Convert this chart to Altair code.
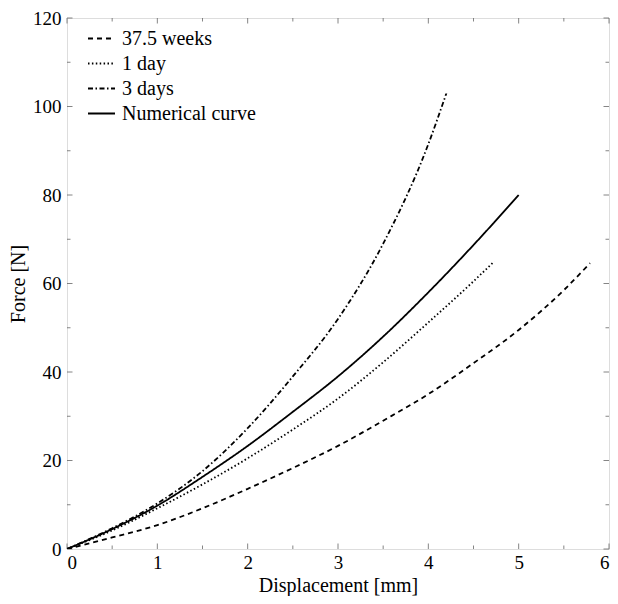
import altair as alt
import pandas as pd

# ---- data ----
series_names = ["37.5 weeks", "1 day", "3 days", "Numerical curve"]

weeks_x = [0, 0.5, 1, 1.5, 2, 2.5, 3, 3.5, 4, 4.5, 5, 5.5, 5.79]
weeks_y = [0, 2.6, 5.4, 9.2, 13.6, 18.3, 23.3, 29, 35, 42, 49.5, 58.5, 64.6]

day1_x = [0, 0.5, 1, 1.5, 2, 2.5, 3, 3.5, 4, 4.5, 4.73]
day1_y = [0, 4.2, 9.2, 14.6, 20.5, 27, 34, 42.2, 51.2, 60.5, 65]

day3_x = [0, 0.5, 1, 1.5, 2, 2.5, 3, 3.5, 4, 4.2]
day3_y = [0, 4.7, 10.3, 17.6, 27.3, 39, 52, 69, 91.5, 103]

num_x = [0, 0.5, 1, 1.5, 2, 2.5, 3, 3.5, 4, 4.5, 5]
num_y = [0, 4.5, 9.8, 16.3, 23.3, 31, 39, 48, 58, 68.7, 80]

x_major = [0, 1, 2, 3, 4, 5, 6]
x_minor = [0.5, 1.5, 2.5, 3.5, 4.5, 5.5]
y_major = [0, 20, 40, 60, 80, 100, 120]
y_minor = [10, 30, 50, 70, 90, 110]

rows = []
for name, xs, ys in [
    (series_names[0], weeks_x, weeks_y),
    (series_names[1], day1_x, day1_y),
    (series_names[2], day3_x, day3_y),
    (series_names[3], num_x, num_y),
]:
    for xv, yv in zip(xs, ys):
        rows.append({"series": name, "disp": xv, "force": yv})
df = pd.DataFrame(rows)

W, H = 542, 531
FONT = "Liberation Serif"
LFS = 19   # tick labels
FS = 20    # titles / legend

xscale = alt.Scale(domain=[0, 6], nice=False, zero=False)
yscale = alt.Scale(domain=[0, 120], nice=False, zero=False)

dash_scale = alt.Scale(
    domain=series_names,
    range=[[5, 4], [1.5, 2.4], [5, 2.5, 1.5, 2.5], [1, 0]],
)

lines = alt.Chart(df).mark_line(
    color="black", strokeWidth=1.8, interpolate="monotone", clip=True
).encode(
    x=alt.X("disp:Q", scale=xscale,
            axis=alt.Axis(values=x_major, format="d", title="Displacement [mm]",
                          ticks=False, domain=False, grid=False, labelPadding=4,
                          titlePadding=3, labelFont=FONT, labelFontSize=LFS,
                          titleFont=FONT, titleFontSize=FS, titleFontWeight="normal",
                          labelColor="black", titleColor="black")),
    y=alt.Y("force:Q", scale=yscale,
            axis=alt.Axis(values=y_major, format="d", title="Force [N]",
                          ticks=False, domain=False, grid=False, labelPadding=6,
                          titlePadding=4, labelFont=FONT, labelFontSize=LFS,
                          titleFont=FONT, titleFontSize=FS, titleFontWeight="normal",
                          labelColor="black", titleColor="black")),
    strokeDash=alt.StrokeDash(
        "series:N", scale=dash_scale, sort=series_names,
        legend=alt.Legend(
            title=None, orient="none", legendX=20, legendY=6,
            symbolType="stroke", symbolSize=729, symbolStrokeWidth=1.8,
            symbolStrokeColor="black", labelFont=FONT, labelFontSize=FS,
            labelColor="black", labelOffset=6, rowPadding=-8,
            labelLimit=300,
        ),
    ),
    detail="series:N",
    order="disp:Q",
)

tick_color = "#666666"

def xticks(vals, length):
    d = pd.DataFrame({"v": vals})
    bottom = alt.Chart(d).mark_rule(color=tick_color, strokeWidth=0.8).encode(
        x=alt.X("v:Q", scale=xscale), y=alt.value(H), y2=alt.value(H - length))
    top = alt.Chart(d).mark_rule(color=tick_color, strokeWidth=0.8).encode(
        x=alt.X("v:Q", scale=xscale), y=alt.value(0), y2=alt.value(length))
    return [bottom, top]

def yticks(vals, length):
    d = pd.DataFrame({"v": vals})
    left = alt.Chart(d).mark_rule(color=tick_color, strokeWidth=0.8).encode(
        y=alt.Y("v:Q", scale=yscale), x=alt.value(0), x2=alt.value(length))
    right = alt.Chart(d).mark_rule(color=tick_color, strokeWidth=0.8).encode(
        y=alt.Y("v:Q", scale=yscale), x=alt.value(W), x2=alt.value(W - length))
    return [left, right]

layers = (xticks(x_major, 5.5) + xticks(x_minor, 3.5)
          + yticks(y_major, 5.5) + yticks(y_minor, 3.5) + [lines])

chart = alt.layer(*layers).properties(
    width=W, height=H,
    autosize=alt.AutoSizeParams(type="none"),
    padding={"left": 59, "top": 10, "right": 1, "bottom": 47},
).configure_view(
    stroke="black", strokeWidth=1.1, fill="white"
).configure(background="white")

chart.save("out.html", embed_options={"renderer": "svg", "actions": False})
